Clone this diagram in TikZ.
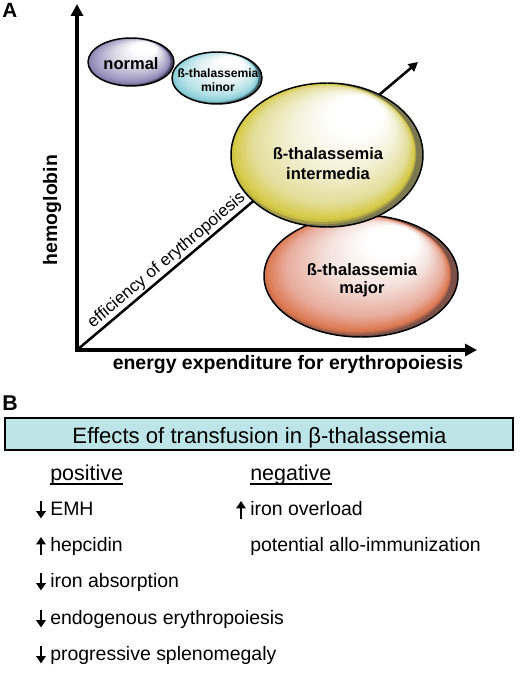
\documentclass[tikz,border=0pt]{standalone}
\usepackage{fontspec}
\setmainfont{Liberation Sans}
\usetikzlibrary{arrows.meta,shapes.geometric}
\definecolor{nrmD}{HTML}{4A4560}\definecolor{nrmS}{HTML}{8A82B0}\definecolor{nrmC}{HTML}{ABA5C9}\definecolor{nrmL}{HTML}{DCDAE6}
\definecolor{minD}{HTML}{3C5C64}\definecolor{minS}{HTML}{86CCD6}\definecolor{minC}{HTML}{B4E2E8}\definecolor{minL}{HTML}{E2F2F4}
\definecolor{intD}{HTML}{7C7850}\definecolor{intS}{HTML}{D4C840}\definecolor{intC}{HTML}{E4DE9A}\definecolor{intL}{HTML}{F4F2D8}
\definecolor{majD}{HTML}{7A5048}\definecolor{majS}{HTML}{DC7850}\definecolor{majC}{HTML}{E8AC9C}\definecolor{majL}{HTML}{F4E0DA}
\definecolor{boxC}{HTML}{BDE5E8}
% #1 cx, #2 cy, #3 rx, #4 ry, #5 D, #6 S, #7 C, #8 L
\newcommand\glossyblob[8]{%
  \begin{scope}
    \clip (#1,#2) ellipse [x radius=#3, y radius=#4];
    \fill[#5] (#1,#2) ellipse [x radius=#3, y radius=#4];
    \foreach \i in {0,...,44}{%
      \pgfmathsetmacro\tt{\i/44}%
      \pgfmathsetmacro\ss{1-0.9*\tt}%
      \pgfmathsetmacro\ccx{#1+#3*(-0.06+0.46*\tt)}%
      \pgfmathsetmacro\ccy{#2+#4*(-0.68*\tt)}%
      \ifdim\tt pt<0.05pt
        \pgfmathsetmacro\pp{100*\tt/0.05}\colorlet{gc}{#6!\pp!#5}%
      \else\ifdim\tt pt<0.2pt
        \pgfmathsetmacro\pp{100*(\tt-0.05)/0.15}\colorlet{gc}{#7!\pp!#6}%
      \else\ifdim\tt pt<0.5pt
        \pgfmathsetmacro\pp{100*(\tt-0.2)/0.30}\colorlet{gc}{#8!\pp!#7}%
      \else\ifdim\tt pt<0.8pt
        \pgfmathsetmacro\pp{100*(\tt-0.5)/0.3}\colorlet{gc}{white!\pp!#8}%
      \else
        \colorlet{gc}{white}%
      \fi\fi\fi\fi
      \fill[gc] (\ccx,\ccy) ellipse [x radius=#3*\ss, y radius=#4*\ss];
    }
  \end{scope}}
\begin{document}
\begin{tikzpicture}[x=0.75pt,y=-0.75pt,
  axisline/.style={line width=3pt,-{Triangle[length=9pt,width=9pt]}},
  diagline/.style={line width=1.9pt,-{Triangle[length=7pt,width=7pt]}},
  blob/.style={ellipse,draw=black,line width=1.1pt,inner sep=0pt},
  bt/.style={font=\bfseries\fontsize{#1}{#1}\selectfont,anchor=base,inner sep=0pt},
  item/.style={font=\fontsize{14.6}{17}\selectfont,anchor=base west,inner sep=0pt},
  hdr/.style={font=\fontsize{16.1}{19}\selectfont,anchor=base west,inner sep=0pt},
  dnarrow/.style={line width=2.2pt,-{Triangle[length=5.5pt,width=7pt]}},
  panel/.style={font=\bfseries\fontsize{#1}{#1}\selectfont,anchor=base west,inner sep=0pt}
]
\path[use as bounding box] (0,0) rectangle (520,673);
% ---------- Panel A ----------
\node[panel=15.5] (A) at (2,18) {A};
\coordinate (O) at (77,350);
\coordinate (Ytop) at (77,4);
\coordinate (Xend) at (477,350);
\coordinate (Dend) at (418,62);
\draw[axisline] ([yshift=-1.5pt]O) -- (Ytop);
\draw[axisline] ([xshift=-1.5pt]O) -- (Xend);
\draw[diagline] (O) -- (Dend)
  node[pos=0.283,sloped,anchor=south,inner sep=0pt,yshift=1pt,font=\fontsize{12.75}{14}\selectfont] (eff) {efficiency of erythropoiesis};
\node[bt=14.6,rotate=90] (hb) at (57,210) {hemoglobin};
\node[bt=14.6] (xl) at (288,369) {energy expenditure for erythropoiesis};
% ellipses
\glossyblob{131}{62}{43}{24}{nrmD}{nrmS}{nrmC}{nrmL}
\node[blob,minimum width=64.5pt,minimum height=36pt] (normal) at (131,62) {};
\glossyblob{217}{78}{45}{26}{minD}{minS}{minC}{minL}
\node[blob,minimum width=67.5pt,minimum height=39pt] (minor) at (217,78) {};
\glossyblob{361}{276}{97}{61}{majD}{majS}{majC}{majL}
\node[blob,minimum width=145.5pt,minimum height=91.5pt] (major) at (361,276) {};
\glossyblob{327}{155}{96}{72}{intD}{intS}{intC}{intL}
\node[blob,minimum width=144pt,minimum height=108pt] (inter) at (327,155) {};
\node[bt=12.4] (normalt) at (131,70) {normal};
\node[bt=9.1] (minort1) at (218,78) {ß-thalassemia};
\node[bt=9.1] (minort2) at (218,92) {minor};
\node[bt=12.4] (intert1) at (328,160) {ß-thalassemia};
\node[bt=12.4] (intert2) at (328,180) {intermedia};
\node[bt=12.4] (majort1) at (362,275) {ß-thalassemia};
\node[bt=12.4] (majort2) at (362,293) {major};
% ---------- Panel B ----------
\node[panel=16] (B) at (2,410) {B};
\node[draw=black,line width=1.5pt,fill=boxC,minimum width=381pt,minimum height=24pt,inner sep=0pt] (box) at (259,434) {};
\node[font=\fontsize{16.6}{19}\selectfont,anchor=base,inner sep=0pt] (title) at (259.5,443) {Effects of transfusion in β-thalassemia};
\node[hdr] (pos) at (50,480) {positive};
\node[hdr] (neg) at (250,480) {negative};
\draw[line width=0.9pt] ([yshift=-3pt]pos.base west) -- ([yshift=-3pt]pos.base east);
\draw[line width=0.9pt] ([yshift=-3pt]neg.base west) -- ([yshift=-3pt]neg.base east);
\node[item] (p1) at (50,515) {EMH};
\node[item] (p2) at (50,551) {hepcidin};
\node[item] (p3) at (50,587) {iron absorption};
\node[item] (p4) at (50,624) {endogenous erythropoiesis};
\node[item] (p5) at (50,660) {progressive splenomegaly};
\node[item] (n1) at (250,515) {iron overload};
\node[item] (n2) at (250,551) {potential allo-immunization};
% arrows
\draw[dnarrow] (41,501) -- (41,518.5);
\draw[dnarrow] (41,554.5) -- (41,537);
\draw[dnarrow] (41,573) -- (41,590.5);
\draw[dnarrow] (41,610) -- (41,627.5);
\draw[dnarrow] (41,646) -- (41,663.5);
\draw[dnarrow] (241,518.5) -- (241,501);
\end{tikzpicture}
\end{document}
